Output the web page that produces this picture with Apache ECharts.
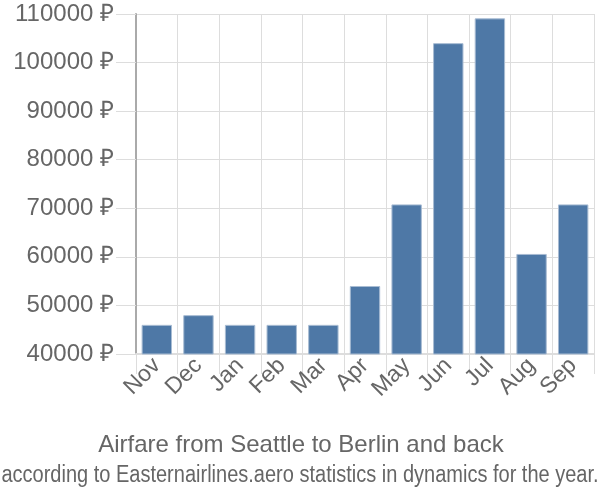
<!DOCTYPE html>
<html>
<head>
<meta charset="utf-8">
<script src="https://cdn.jsdelivr.net/npm/echarts@6/dist/echarts.min.js"></script>
<style>html,body{margin:0;padding:0;background:#fff}#c{width:600px;height:500px}</style>
</head>
<body>
<div id="c"></div>
<script>
const months = ["Nov","Dec","Jan","Feb","Mar","Apr","May","Jun","Jul","Aug","Sep"];
const fares = [46000,48000,46000,46000,46000,54000,70800,104000,109100,60600,70800];
const yTicks = {min:40000, max:110000, step:10000};
const titleText = "Airfare from Seattle to Berlin and back";
const subText = "according to Easternairlines.aero statistics in dynamics for the year.";

const chart = echarts.init(document.getElementById('c'));
chart.setOption({
  animation:false,
  graphic:[
    {type:'text', x:301, y:445, style:{text:titleText, textAlign:'center', textVerticalAlign:'middle',
      font:'normal 24px "Liberation Sans"', fill:'#666'}},
    {type:'text', x:300, y:476, scaleX:0.87, style:{text:subText, textAlign:'center', textVerticalAlign:'middle',
      font:'normal 23px "Liberation Sans"', fill:'#666'}}
  ],
  grid:{left:136, right:6, top:14, bottom:146},
  xAxis:{
    type:'category', data:months, boundaryGap:true,
    axisLine:{lineStyle:{color:'#ddd', width:2}},
    axisTick:{show:true, length:20, lineStyle:{color:'#ddd'}},
    splitLine:{show:true, lineStyle:{color:'#ddd'}},
    axisLabel:{rotate:45, interval:0, fontSize:23, color:'#666', fontFamily:'Liberation Sans', margin:8}
  },
  yAxis:{
    type:'value', min:yTicks.min, max:yTicks.max, interval:yTicks.step,
    axisLine:{show:true, lineStyle:{color:'#aaa', width:2}},
    axisTick:{show:true, length:20, lineStyle:{color:'#ddd'}},
    splitLine:{show:true, lineStyle:{color:'#ddd', width:1}},
    axisLabel:{fontSize:24, color:'#666', fontFamily:'Liberation Sans', margin:22,
      formatter: v => v + ' ₽'}
  },
  series:[{
    type:'bar', data:fares, barCategoryGap:'27%',
    itemStyle:{color:'#4e78a6', borderColor:'#a8bcd3', borderWidth:1}
  }]
});
</script>
</body>
</html>
